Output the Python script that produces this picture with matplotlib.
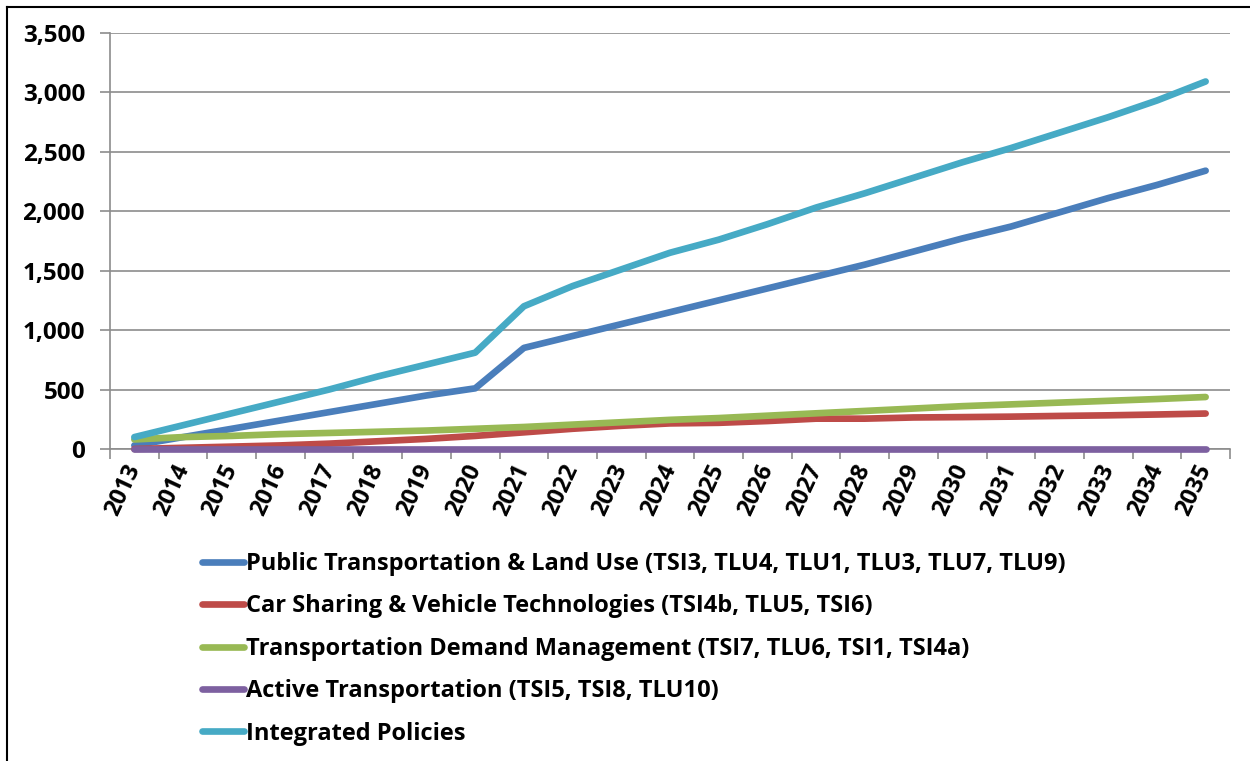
import matplotlib.pyplot as plt
import numpy as np
from matplotlib.lines import Line2D
from matplotlib.ticker import FuncFormatter

years = list(range(2013, 2036))

public_transit = [30, 100, 170, 240, 310, 380, 450, 510, 850, 950, 1050, 1150, 1250,
                  1350, 1450, 1550, 1660, 1770, 1870, 1990, 2110, 2220, 2340]
car_sharing = [0, 10, 20, 30, 45, 65, 85, 110, 140, 170, 195, 215, 220,
               235, 255, 255, 265, 268, 272, 278, 283, 290, 298]
tdm = [80, 100, 110, 125, 135, 145, 155, 170, 185, 205, 225, 245, 260,
       280, 300, 320, 340, 360, 375, 390, 405, 420, 437]
active = [0] * 23
integrated = [100, 200, 300, 400, 500, 610, 710, 810, 1200, 1370, 1510, 1650, 1760,
              1890, 2030, 2150, 2280, 2410, 2530, 2660, 2790, 2930, 3090]

labels = ['Public Transportation & Land Use (TSI3, TLU4, TLU1, TLU3, TLU7, TLU9)',
          'Car Sharing & Vehicle Technologies (TSI4b, TLU5, TSI6)',
          'Transportation Demand Management (TSI7, TLU6, TSI1, TSI4a)',
          'Active Transportation (TSI5, TSI8, TLU10)',
          'Integrated Policies']
colors = ['#4A7EBB', '#BE4B48', '#98B954', '#7D60A0', '#46AAC5']
series = [public_transit, car_sharing, tdm, active, integrated]

plt.rcParams['font.family'] = ['Open Sans', 'DejaVu Sans']
plt.rcParams['font.weight'] = 'bold'

fig = plt.figure(figsize=(12.5, 7.61), dpi=100)
ax = fig.add_axes([0.088, 0.41, 0.896, 0.547])

x = np.arange(len(years))
for vals, c in zip(series, colors):
    ax.plot(x, vals, color=c, lw=4.8, solid_capstyle='round', solid_joinstyle='round',
            clip_on=False, zorder=3)

ax.set_xlim(-0.5, len(years) - 0.5)
ax.set_ylim(0, 3500)
ax.set_yticks(np.arange(0, 3501, 500))
ax.yaxis.set_major_formatter(FuncFormatter(lambda v, p: '{:,.0f}'.format(v)))
ax.yaxis.grid(True, color='#8c8c8c', lw=1.2)
ax.set_axisbelow(True)

ax.set_xticks(np.arange(-0.5, len(years), 1.0))
ax.set_xticklabels([])
ax.set_xticks(x, minor=True)
ax.set_xticklabels([str(y) for y in years], minor=True, rotation=65,
                   ha='right', va='center', rotation_mode='anchor', fontsize=17)
ax.tick_params(axis='x', which='minor', length=0, pad=12)
ax.tick_params(axis='x', which='major', length=7, color='#8c8c8c', width=1.2)
ax.tick_params(axis='y', length=7, color='#8c8c8c', width=1.2, labelsize=17.5, pad=11)

for s in ['top', 'right']:
    ax.spines[s].set_visible(False)
for s in ['left', 'bottom']:
    ax.spines[s].set_color('#8c8c8c')
    ax.spines[s].set_linewidth(1.2)
    ax.spines[s].set_zorder(1)

handles = [Line2D([], [], color=c, lw=4.8, solid_capstyle='round') for c in colors]
fig.legend(handles, labels, loc='upper left', bbox_to_anchor=(0.154, 0.287),
           frameon=False, fontsize=17, handlelength=1.8, handletextpad=0.08,
           labelspacing=0.78, borderaxespad=0)

# outer frame (left and top edges visible)
fig.add_artist(Line2D([0.0056, 0.0056], [0, 0.991], color='black', lw=1.5, transform=fig.transFigure))
fig.add_artist(Line2D([0.0056, 1.0], [0.991, 0.991], color='black', lw=1.5, transform=fig.transFigure))

plt.savefig('out.png', dpi=100)
